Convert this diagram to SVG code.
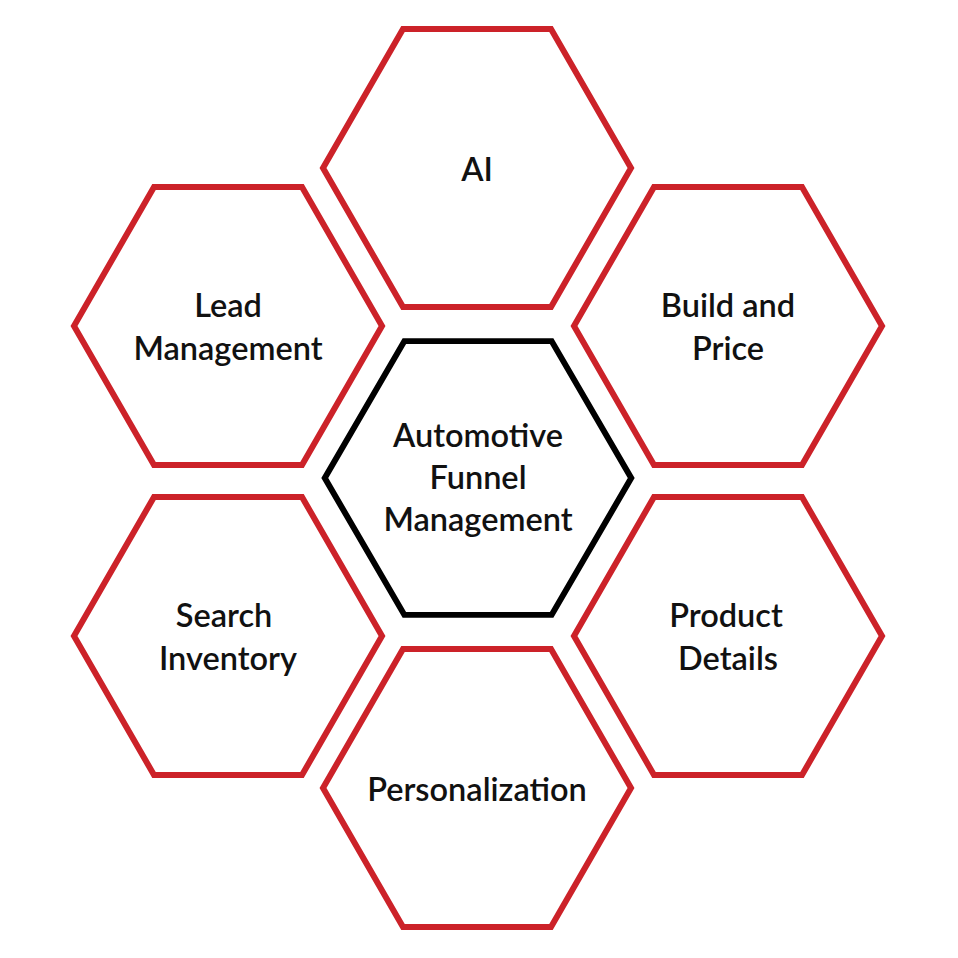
<svg xmlns="http://www.w3.org/2000/svg" xmlns:xlink="http://www.w3.org/1999/xlink" width="958" height="958" viewBox="0 0 958 958">
<style>
.h{fill:#fff;stroke:#cc2229;stroke-width:6}
.c{fill:#fff;stroke:#000;stroke-width:6}
text{font-family:Lato,"Liberation Sans",sans-serif;font-size:32.5px;font-weight:600;fill:#111;text-anchor:middle}
</style>
<defs><polygon id="hx" points="-154,0 -74,-139 74,-139 154,0 74,139 -74,139"/></defs>
<rect width="958" height="958" fill="#fff"/>
<g id="connectors"/>
<g id="ai"><use href="#hx" class="h" transform="translate(477,168)"/><text x="477" y="181">AI</text></g>
<g id="lead"><use href="#hx" class="h" transform="translate(228,326)"/><text x="228" y="317">Lead</text><text x="228" y="360">Management</text></g>
<g id="build"><use href="#hx" class="h" transform="translate(728,326)"/><text x="728" y="317">Build and</text><text x="728" y="360">Price</text></g>
<g id="center"><use href="#hx" class="c" transform="translate(478,478) scale(0.995,0.985)"/><text x="478" y="447">Automotive</text><text x="478" y="489">Funnel</text><text x="478" y="531">Management</text></g>
<g id="search"><use href="#hx" class="h" transform="translate(228,636)"/><text x="224" y="627">Search</text><text x="228" y="670">Inventory</text></g>
<g id="product"><use href="#hx" class="h" transform="translate(728,636)"/><text x="726" y="627">Product</text><text x="728" y="670">Details</text></g>
<g id="personal"><use href="#hx" class="h" transform="translate(477,788)"/><text x="477" y="801">Personalization</text></g>
</svg>
